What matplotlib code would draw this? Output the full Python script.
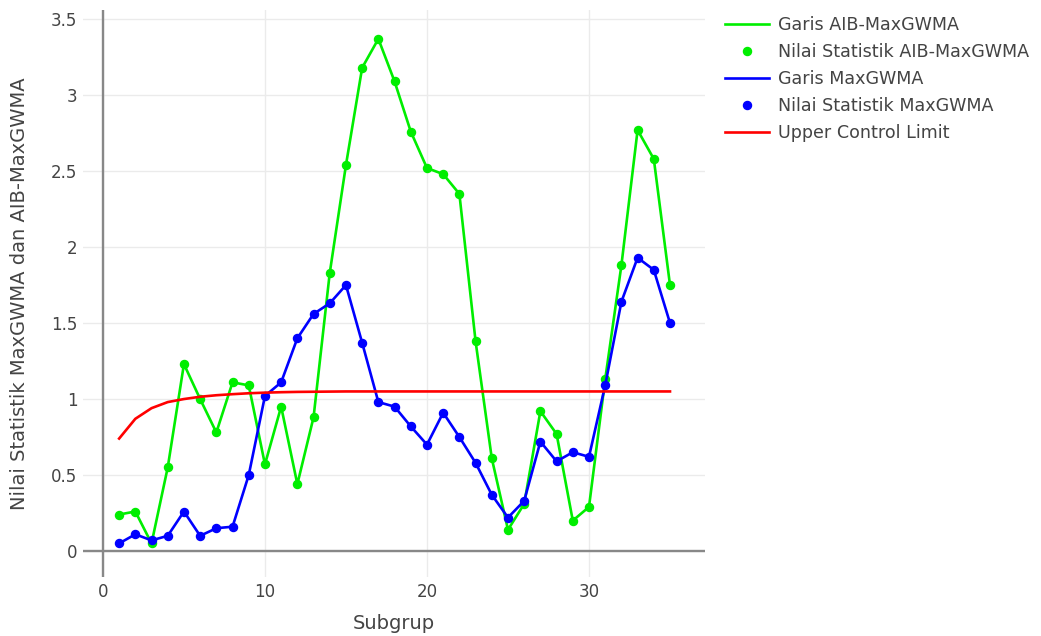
import matplotlib.pyplot as plt
from matplotlib.lines import Line2D

# Data subgrup 1..35
subgrup = list(range(1, 36))

aib_maxgwma = [0.24, 0.26, 0.05, 0.55, 1.23, 1.00, 0.78, 1.11, 1.09, 0.57,
               0.95, 0.44, 0.88, 1.83, 2.54, 3.18, 3.37, 3.09, 2.76, 2.52,
               2.48, 2.35, 1.38, 0.61, 0.14, 0.31, 0.92, 0.77, 0.20, 0.29,
               1.13, 1.88, 2.77, 2.58, 1.75]

maxgwma = [0.05, 0.11, 0.07, 0.10, 0.26, 0.10, 0.15, 0.16, 0.50, 1.02,
           1.11, 1.40, 1.56, 1.63, 1.75, 1.37, 0.98, 0.95, 0.82, 0.70,
           0.91, 0.75, 0.58, 0.37, 0.22, 0.33, 0.72, 0.59, 0.65, 0.62,
           1.09, 1.64, 1.93, 1.85, 1.50]

ucl = [0.74, 0.87, 0.94, 0.98, 1.00, 1.015, 1.025, 1.032, 1.038, 1.042,
       1.045, 1.047, 1.048, 1.049, 1.05, 1.05, 1.05, 1.05, 1.05, 1.05,
       1.05, 1.05, 1.05, 1.05, 1.05, 1.05, 1.05, 1.05, 1.05, 1.05,
       1.05, 1.05, 1.05, 1.05, 1.05]

x_ticks = [0, 10, 20, 30]
y_ticks = [0, 0.5, 1, 1.5, 2, 2.5, 3, 3.5]
y_ticklabels = ["0", "0.5", "1", "1.5", "2", "2.5", "3", "3.5"]

hijau = "#00ee00"
biru = "#0000ff"
merah = "#ff0000"
teks = "#444444"

fig = plt.figure(figsize=(10.41, 6.36), dpi=100)
ax = fig.add_axes([83 / 1041, 1 - 577 / 636, (705 - 83) / 1041, (577 - 10) / 636])

ax.plot(subgrup, aib_maxgwma, color=hijau, lw=1.9, zorder=3)
ax.plot(subgrup, aib_maxgwma, 'o', color=hijau, ms=5.8, zorder=4)
ax.plot(subgrup, maxgwma, color=biru, lw=1.9, zorder=5)
ax.plot(subgrup, maxgwma, 'o', color=biru, ms=5.8, zorder=6)
ax.plot(subgrup, ucl, color=merah, lw=1.9, zorder=7)

ax.set_xlim(-1.23, 37.16)
ax.set_ylim(-0.171, 3.56)

# grid tipis dan zeroline abu-abu
ax.set_xticks(x_ticks)
ax.set_yticks(y_ticks)
ax.set_yticklabels(y_ticklabels)
ax.grid(True, color="#ebebeb", lw=1)
ax.axhline(0, color="#888888", lw=1.7, zorder=2)
ax.axvline(0, color="#888888", lw=1.7, zorder=2)
for s in ax.spines.values():
    s.set_visible(False)
ax.tick_params(length=0, labelsize=12, labelcolor=teks, pad=4)

ax.set_xlabel("Subgrup", fontsize=14, color=teks, labelpad=10)
ax.set_ylabel("Nilai Statistik MaxGWMA dan AIB-MaxGWMA", fontsize=14,
              color=teks, labelpad=16)

handles = [
    Line2D([], [], color=hijau, lw=1.9),
    Line2D([], [], color=hijau, marker='o', ls='none', ms=5.8),
    Line2D([], [], color=biru, lw=1.9),
    Line2D([], [], color=biru, marker='o', ls='none', ms=5.8),
    Line2D([], [], color=merah, lw=1.9),
]
labels = ["Garis AIB-MaxGWMA", "Nilai Statistik AIB-MaxGWMA", "Garis MaxGWMA",
          "Nilai Statistik MaxGWMA", "Upper Control Limit"]
leg = fig.legend(handles, labels, loc="upper left",
                 bbox_to_anchor=(725 / 1041, 1 - 16 / 636), frameon=False,
                 fontsize=12.6, handlelength=2.5, handletextpad=0.55,
                 labelspacing=0.52, borderaxespad=0, borderpad=0)
for t in leg.get_texts():
    t.set_color(teks)

plt.savefig("out.png", dpi=100, facecolor="white")
